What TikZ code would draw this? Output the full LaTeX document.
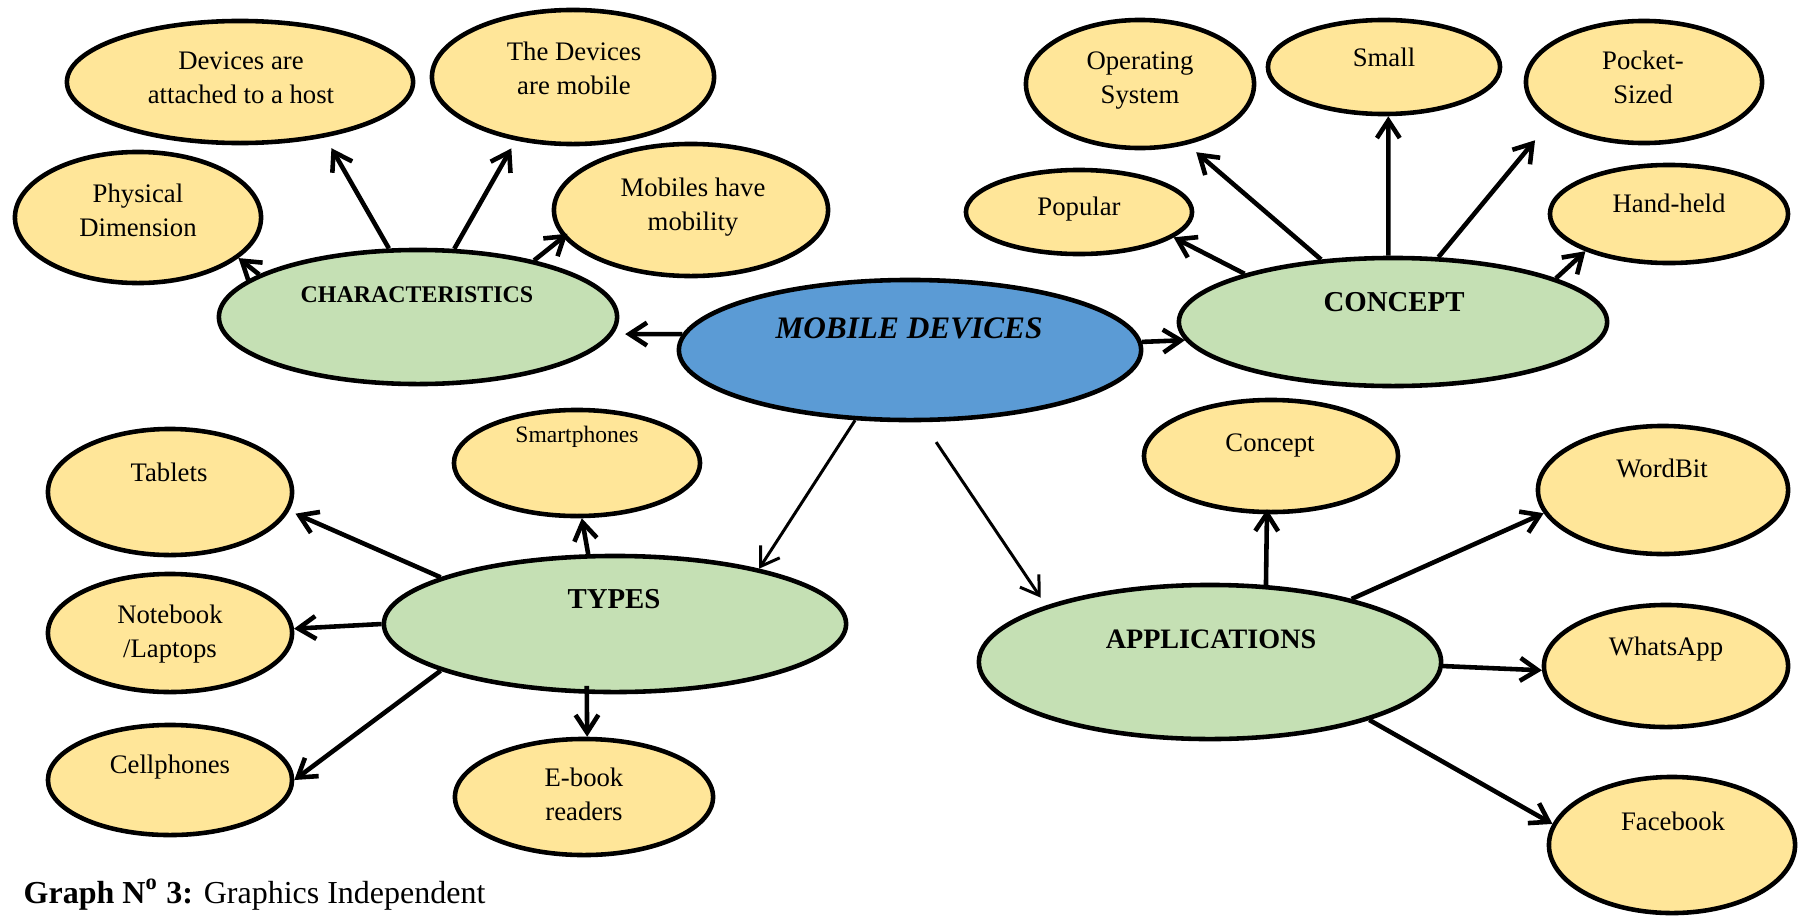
\documentclass[tikz,border=0pt]{standalone}
\usepackage{fontspec}
\setmainfont{Liberation Serif}
\usetikzlibrary{shapes.geometric,arrows.meta}
\definecolor{leafy}{RGB}{255,230,153}
\definecolor{catg}{RGB}{197,224,180}
\definecolor{hubb}{RGB}{91,155,213}
\tikzset{
  ell/.style={ellipse, draw=black, line width=1.3pt, inner sep=0pt},
  leaf/.style={ell, fill=leafy},
  cat/.style={ell, fill=catg},
  hub/.style={ell, fill=hubb},
  txt/.style={font=\fontsize{7.6pt}{9.4pt}\selectfont, align=center, inner sep=0pt, anchor=base},
  stxt/.style={txt, font=\fontsize{6.7pt}{8pt}\selectfont},
  bold/.style={txt, font=\fontsize{8.2pt}{9.4pt}\selectfont\bfseries},
  arr/.style={line width=1.3pt, -{Straight Barb[length=5pt,width=6.5pt]}},
  tarr/.style={arr, line width=0.85pt},
}
\begin{document}
\begin{tikzpicture}[x=0.01cm,y=-0.01cm]
\useasboundingbox (0,0) rectangle (1806,915);
% ---- ellipses
\node[leaf, minimum width=2.46cm, minimum height=1.31cm] (phys) at (138,217.5) {};
\node[leaf, minimum width=3.46cm, minimum height=1.22cm] (host) at (240,82) {};
\node[leaf, minimum width=2.82cm, minimum height=1.34cm] (devmob) at (573,77) {};
\node[leaf, minimum width=2.74cm, minimum height=1.32cm] (mobmob) at (691,210) {};
\node[cat, minimum width=3.98cm, minimum height=1.34cm] (char) at (418,317) {};
\node[hub, minimum width=4.62cm, minimum height=1.40cm] (md) at (910,350) {};
\node[leaf, minimum width=2.28cm, minimum height=1.28cm] (os) at (1140,84) {};
\node[leaf, minimum width=2.26cm, minimum height=0.84cm] (popular) at (1079,212) {};
\node[leaf, minimum width=2.32cm, minimum height=0.94cm] (small) at (1384,67) {};
\node[leaf, minimum width=2.36cm, minimum height=1.22cm] (pocket) at (1644,82) {};
\node[leaf, minimum width=2.38cm, minimum height=0.98cm] (hand) at (1669,214) {};
\node[cat, minimum width=4.28cm, minimum height=1.28cm] (concept) at (1393,322) {};
\node[leaf, minimum width=2.54cm, minimum height=1.12cm] (capp) at (1271,456) {};
\node[leaf, minimum width=2.50cm, minimum height=1.28cm] (wordbit) at (1663,490) {};
\node[leaf, minimum width=2.44cm, minimum height=1.22cm] (whatsapp) at (1666,666) {};
\node[leaf, minimum width=2.46cm, minimum height=1.36cm] (facebook) at (1672,845) {};
\node[cat, minimum width=4.62cm, minimum height=1.54cm] (apps) at (1210,662) {};
\node[leaf, minimum width=2.46cm, minimum height=1.06cm] (smart) at (577,463) {};
\node[leaf, minimum width=2.44cm, minimum height=1.26cm] (tablets) at (170,492) {};
\node[leaf, minimum width=2.44cm, minimum height=1.18cm] (notebook) at (170,633) {};
\node[leaf, minimum width=2.44cm, minimum height=1.10cm] (cell) at (170,780) {};
\node[leaf, minimum width=2.58cm, minimum height=1.16cm] (ebook) at (584,797) {};
\node[cat, minimum width=4.62cm, minimum height=1.36cm] (types) at (615,624) {};
% ---- texts (two-line texts are placed by the baseline of their last line)
\node[txt] (host-t) at (241,103) {Devices are\\attached to a host};
\node[txt] (phys-t) at (138,236) {Physical\\Dimension};
\node[txt] (devmob-t) at (574,94) {The Devices\\are mobile};
\node[txt] (mobmob-t) at (693,230) {Mobiles have\\mobility};
\node[bold, font=\fontsize{6.8pt}{8pt}\selectfont\bfseries] (char-t) at (417,302) {CHARACTERISTICS};
\node[bold, font=\fontsize{8.9pt}{10pt}\selectfont\bfseries\itshape] (md-t) at (909,338) {MOBILE DEVICES};
\node[txt] (os-t) at (1140,103) {Operating\\System};
\node[txt] (popular-t) at (1079,215) {Popular};
\node[txt] (small-t) at (1384,67) {Small};
\node[txt] (pocket-t) at (1643,103) {Pocket-\\Sized};
\node[txt] (hand-t) at (1669,212) {Hand-held};
\node[bold] (concept-t) at (1394,311) {CONCEPT};
\node[txt] (capp-t) at (1270,451) {Concept};
\node[txt] (wordbit-t) at (1662,477) {WordBit};
\node[txt] (whatsapp-t) at (1666,655) {WhatsApp};
\node[txt] (facebook-t) at (1673,830) {Facebook};
\node[bold, font=\fontsize{8pt}{9.4pt}\selectfont\bfseries] (apps-t) at (1211,648) {APPLICATIONS};
\node[stxt] (smart-t) at (577,442) {Smartphones};
\node[txt] (tablets-t) at (169,481) {Tablets};
\node[txt] (notebook-t) at (170,657) {Notebook\\/Laptops};
\node[txt] (cell-t) at (170,773) {Cellphones};
\node[txt] (ebook-t) at (584,820) {E-book\\readers};
\node[bold] (types-t) at (614,608) {TYPES};
\node[anchor=base west, inner sep=0pt, font=\fontsize{9.1pt}{11pt}\selectfont] (caption) at (23,903) {\textbf{Graph N\textsuperscript{o} 3:} Graphics Independent};
% ---- connectors
\draw[arr] (char.165.9) -- (phys.-22.2);
\draw[arr, shorten >=0.125cm] (char.113.9) -- (host.-33);
\draw[arr, shorten >=0.09cm] (char.62.8) -- (devmob.228.2);
\draw[arr, shorten >=-0.055cm] (char.26.2) -- (mobmob.192.6);
\draw[arr, shorten >=0.12cm] (md.176.8) -- (char.-5.9);
\draw[arr] (md.2) -- (concept.185.5);
\draw[arr] (concept.162.7) -- (popular.-15.9);
\draw[arr, shorten >=0.117cm] (concept.139.7) -- (os.-52);
\draw[arr] (concept.94.1) -- (small.-85.5);
\draw[arr, shorten >=0.24cm] (concept.55.6) -- (pocket.-157.1);
\draw[arr] (concept.15.7) -- (hand.204.4);
\draw[tarr] (md.232.8) -- (types.21.1);
\draw[tarr, shorten <=0.24cm, shorten >=0.095cm] (md.-80.9) -- (apps.161.2);
\draw[arr] (types.111.3) -- (smart.-85.8);
\draw[arr, shorten <=-0.08cm] (types.248) -- (ebook.87);
\draw[arr, shorten >=0.07cm] (types.165) -- (tablets.-9.7);
\draw[arr] (types.180.7) -- (notebook.2.8);
\draw[arr] (types.195.3) -- (cell.east);
\draw[arr, shorten >=-0.05cm] (apps.54.2) -- (capp.-94);
\draw[arr] (apps.24.3) -- (wordbit.191.4);
\draw[arr] (apps.-1.7) -- (whatsapp.182);
\draw[arr] (apps.-20.1) -- (facebook.170.9);
\end{tikzpicture}
\end{document}
